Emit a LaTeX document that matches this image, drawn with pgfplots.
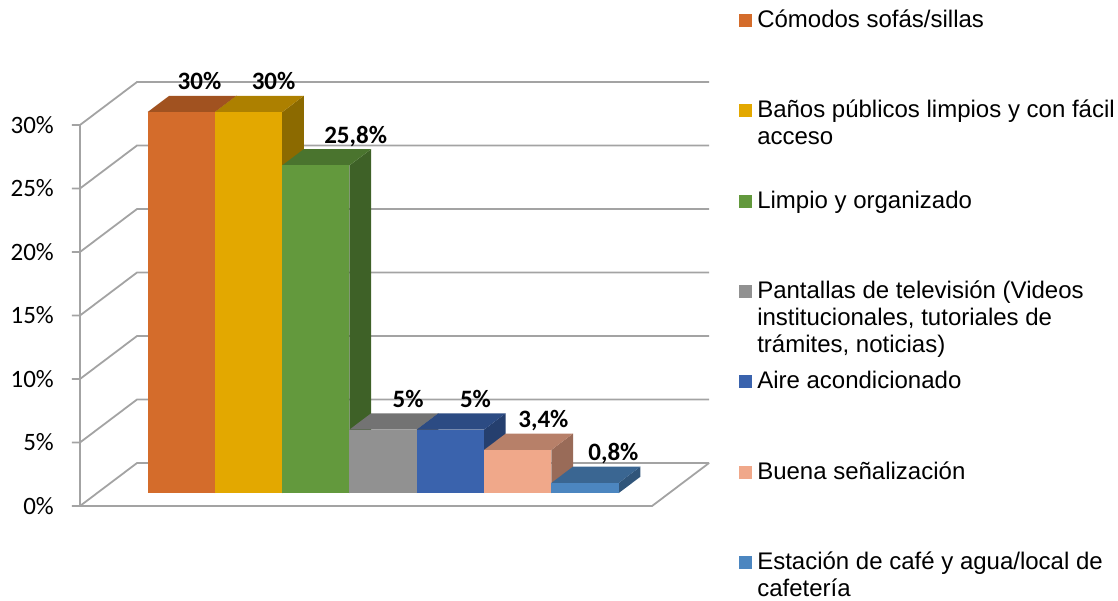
\documentclass[border=0pt]{standalone}
\usepackage{pgfplots}
\pgfplotsset{compat=1.18}
\usepackage{pgfplotstable}
\usepackage{fontspec}
\setmainfont{Liberation Sans}
\newfontfamily\carlito{Carlito}

\definecolor{gridc}{HTML}{A3A3A3}
\definecolor{c1f}{HTML}{D46C2B}\definecolor{c1t}{HTML}{A15220}\definecolor{c1s}{HTML}{8A461B}
\definecolor{c2f}{HTML}{E3A800}\definecolor{c2t}{HTML}{AD8000}\definecolor{c2s}{HTML}{8C6A00}
\definecolor{c3f}{HTML}{63993D}\definecolor{c3t}{HTML}{4A742E}\definecolor{c3s}{HTML}{3E6127}
\definecolor{c4f}{HTML}{919191}\definecolor{c4t}{HTML}{737373}\definecolor{c4s}{HTML}{5E5E5E}
\definecolor{c5f}{HTML}{3A63AD}\definecolor{c5t}{HTML}{2C4B83}\definecolor{c5s}{HTML}{253F6E}
\definecolor{c6f}{HTML}{F0A88A}\definecolor{c6t}{HTML}{B78069}\definecolor{c6s}{HTML}{996B58}
\definecolor{c7f}{HTML}{4C86C0}\definecolor{c7t}{HTML}{3A6692}\definecolor{c7s}{HTML}{30557A}

% depth offsets (front and back of the bars, in data units)
\def\oxa{0.254}\def\oya{1.016}\def\oxb{0.576}\def\oyb{2.302}

% data labels: index, value, small horizontal shift
\pgfplotstableread{
i v dx
0 30 -0.05
1 30 0.05
2 25.8 0.27
3 5 0.05
4 5 0.05
5 3.4 0.06
6 0.8 0.1
}\labtab

\newcommand{\tdbar}[5]{%
  \pgfmathsetmacro\xa{#1-0.5+\oxa}%
  \pgfmathsetmacro\xb{#1+0.5+\oxa}%
  \pgfmathsetmacro\xc{#1+0.5+\oxb}%
  \pgfmathsetmacro\xd{#1-0.5+\oxb}%
  \pgfmathsetmacro\yta{#2+\oya}%
  \pgfmathsetmacro\ytb{#2+\oyb}%
  \addplot[fill=#5, draw=none, forget plot] coordinates {(\xb,\oya) (\xc,\oyb) (\xc,\ytb) (\xb,\yta)} --cycle;
  \addplot[fill=#4, draw=none, forget plot] coordinates {(\xa,\yta) (\xb,\yta) (\xc,\ytb) (\xd,\ytb)} --cycle;
  \addplot[fill=#3, draw=none] coordinates {(\xa,\oya) (\xb,\oya) (\xb,\yta) (\xa,\yta)} --cycle;
}
\newcommand{\gridl}[1]{%
  \pgfmathsetmacro\gy{#1+3.386}%
  \addplot[gridc, line width=1.8pt, forget plot] coordinates {(-1.369,#1) (-1.25,#1) (-0.403,\gy) (8.097,\gy)};
}
\newcommand{\lent}[1]{\parbox[t][90.5pt][t]{400pt}{\strut #1}}

\begin{document}
\begin{tikzpicture}
\begin{axis}[
  name=ax,
  x=67.3pt, y=12.7pt,
  xmin=-1.25, xmax=7.25, ymin=0, ymax=30,
  clip=false,
  axis line style={draw=none},
  xtick=\empty,
  ytick={0,5,...,30},
  major tick length=0pt,
  /pgf/number format/assume math mode=true,
  yticklabel={\pgfmathprintnumber{\tick}\%},
  yticklabel style={font=\carlito\fontsize{25}{30}\selectfont, anchor=east, inner sep=0pt, xshift=-26pt},
  legend image code/.code={\fill[#1] (0pt,0.5pt) rectangle (13pt,13.5pt);},
  legend style={at={(1.1521,1.3068)}, anchor=north west, draw=none, fill=none,
    inner sep=0pt, row sep=70pt, column sep=5pt,
    font=\fontsize{24}{27}\selectfont,
    nodes={inner sep=0pt}, cells={anchor=base west}},
]
% back wall gridlines with front ticks
\gridl{0}\gridl{5}\gridl{10}\gridl{15}\gridl{20}\gridl{25}\gridl{30}
% front axis line and floor edges
\addplot[gridc, line width=1.8pt, forget plot] coordinates {(-1.25,0) (-1.25,30)};
\addplot[gridc, line width=1.8pt, forget plot] coordinates {(-1.25,0) (7.25,0) (8.097,3.386)};
% bars
\tdbar{0}{30}{c1f}{c1t}{c1s}
\addlegendentry{\lent{Cómodos sofás/sillas}}
\tdbar{1}{30}{c2f}{c2t}{c2s}
\addlegendentry{\lent{Baños públicos limpios y con fácil\\acceso}}
\tdbar{2}{25.8}{c3f}{c3t}{c3s}
\addlegendentry{\lent{Limpio y organizado}}
\tdbar{3}{5}{c4f}{c4t}{c4s}
\addlegendentry{\lent{Pantallas de televisión (Videos\\institucionales, tutoriales de\\trámites, noticias)}}
\tdbar{4}{5}{c5f}{c5t}{c5s}
\addlegendentry{\lent{Aire acondicionado}}
\tdbar{5}{3.4}{c6f}{c6t}{c6s}
\addlegendentry{\lent{Buena señalización}}
\tdbar{6}{0.8}{c7f}{c7t}{c7s}
\addlegendentry{\lent{Estación de café y agua/local de\\cafetería}}
% data labels
\addplot[draw=none, mark=none, forget plot, point meta=explicit,
  nodes near coords={\pgfmathprintnumber[use comma]{\pgfplotspointmeta}\%},
  nodes near coords style={font=\carlito\bfseries\fontsize{25}{30}\selectfont, anchor=base, inner sep=0pt, yshift=6pt}]
  table[x expr=\thisrow{i}+0.576+\thisrow{dx}, y expr=\thisrow{v}+2.302, meta=v] {\labtab};
\end{axis}
\pgfresetboundingbox
\path[use as bounding box] ([xshift=-80pt,yshift=-94pt]ax.south west) rectangle ++(1118pt,600pt);
\end{tikzpicture}
\end{document}
